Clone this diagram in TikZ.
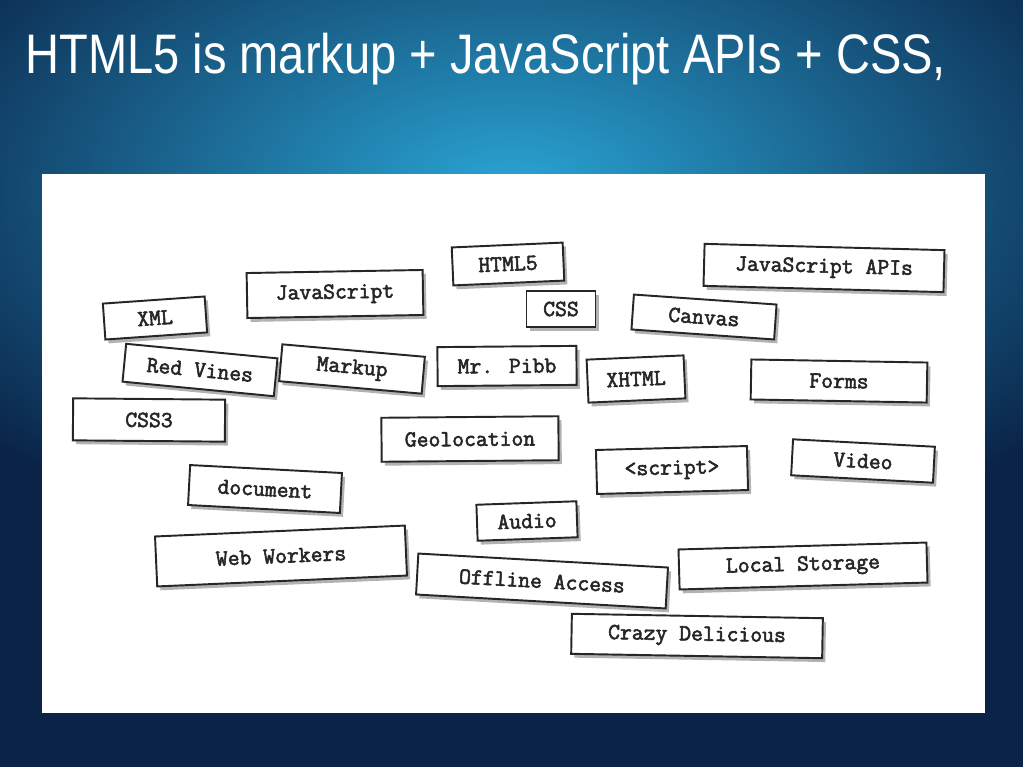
\documentclass[tikz,border=0pt]{standalone}
\usepackage{fontspec,graphicx}
\usetikzlibrary{shadows}
\setmainfont{Liberation Sans}
\newfontfamily\cardfont{Latin Modern Mono}[FakeBold=2.4]
\definecolor{slidedark}{HTML}{0A2347}
\definecolor{slideglow}{HTML}{2AA5D5}
\definecolor{cardink}{HTML}{262626}

\begin{document}
\begin{tikzpicture}[x=0.02cm,y=-0.02cm,
  card/.style 2 args={draw=cardink,line width=1.1pt,fill=white,text=cardink,
    font=\cardfont\fontsize{13.1}{15}\selectfont,
    minimum width=#1*0.02cm,minimum height=#2*0.02cm,inner sep=0pt,
    drop shadow={shadow xshift=1.8pt,shadow yshift=-2.2pt,opacity=.3,fill=black}},
  heading/.style={text=white,font=\fontsize{31.7}{36}\selectfont,inner sep=0pt,anchor=base west}]
\useasboundingbox (0,0) rectangle (1023,767);
\fill[slidedark] (0,0) rectangle (1023,767);
\shade[inner color=slideglow,outer color=slidedark] (512,190) ellipse (700 and 380);
\fill[white] (42,174) rectangle (985,713);
\node[heading] (title) at (25,73) {\scalebox{0.845}[1]{HTML5 is markup + JavaScript APIs + CSS,}};
\node[card={102}{36},rotate=4] (xml) at (155,318) {XML};
\node[card={176}{45},rotate=1] (js) at (335,294) {JavaScript};
\node[card={152}{38},rotate=-5.5] (redvines) at (200,370) {Red Vines};
\node[card={143}{37},rotate=-5] (markup) at (352,369) {Markup};
\node[card={152}{42},rotate=-0.5] (cssthree) at (149,420) {CSS3};
\node[card={111}{38},rotate=2.5] (html) at (508,264) {HTML5};
\node[card={69}{36}] (css) at (561,309) {CSS};
\node[card={143}{35},rotate=-4] (canvas) at (704,317) {Canvas};
\node[card={240}{42},rotate=-1.5] (jsapi) at (824,268) {JavaScript APIs};
\node[card={139}{39},rotate=0.5] (pibb) at (507,366) {Mr. Pibb};
\node[card={97}{43},rotate=2.5] (xhtml) at (636,379) {XHTML};
\node[card={176}{40},rotate=-1] (forms) at (839,381) {Forms};
\node[card={177}{44},rotate=0.5] (geo) at (470,439) {Geolocation};
\node[card={151}{44},rotate=1.5] (script) at (672,470) {<script>};
\node[card={142}{36},rotate=-3] (video) at (863,461) {Video};
\node[card={152}{40},rotate=-3] (document) at (265,489) {document};
\node[card={250}{50},rotate=2.5] (workers) at (281,556) {Web Workers};
\node[card={100}{36},rotate=2] (audio) at (527,521) {Audio};
\node[card={250}{41},rotate=-3.2] (offline) at (542,581) {Offline Access};
\node[card={248}{40},rotate=1.6] (storage) at (803,566) {Local Storage};
\node[card={251}{40},rotate=-1] (crazy) at (697,636) {Crazy Delicious};
\end{tikzpicture}
\end{document}
